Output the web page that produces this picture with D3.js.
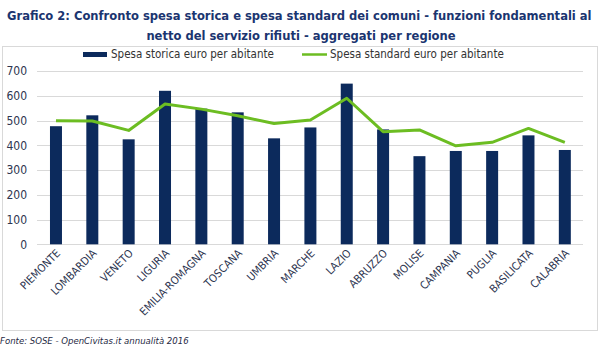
<!DOCTYPE html>
<html><head><meta charset="utf-8">
<script src="https://cdn.jsdelivr.net/npm/d3@7"></script>
<style>body{margin:0;background:#fff}svg{display:block}</style>
</head><body>
<svg id="c" width="600" height="350"></svg>
<script>
const categories = ["PIEMONTE","LOMBARDIA","VENETO","LIGURIA","EMILIA-ROMAGNA","TOSCANA","UMBRIA","MARCHE","LAZIO","ABRUZZO","MOLISE","CAMPANIA","PUGLIA","BASILICATA","CALABRIA"];
const spesaStorica = [477, 521, 424, 620, 548, 533, 428, 472, 649, 464, 356, 377, 377, 440, 381];
const spesaStandard = [499, 498, 460, 567, 546, 519, 488, 502, 590, 455, 462, 398, 412, 468, 412];
const yTicks = [0, 100, 200, 300, 400, 500, 600, 700];
const seriesNames = ["Spesa storica euro per abitante", "Spesa standard euro per abitante"];
const titleLines = ["Grafico 2: Confronto spesa storica e spesa standard dei comuni - funzioni fondamentali al", "netto del servizio rifiuti - aggregati per regione"];
const source = "Fonte: SOSE - OpenCivitas.it annualità 2016";

const svg = d3.select("#c");
const barColor = "#0c2a5c", lineColor = "#6cbd22", textColor = "#2d3550";
const font = "DejaVu Sans Condensed, DejaVu Sans, sans-serif";

// chart frame
svg.append("rect").attr("x", 2.5).attr("y", 46.5).attr("width", 595).attr("height", 284)
  .attr("fill", "none").attr("stroke", "#d9d9d9");

// title (font size fitted so the first line spans the width)
const t1 = svg.append("text").attr("x", 7).attr("y", 20).text(titleLines[0])
  .attr("font-family", font).attr("font-weight", "bold").attr("font-size", 15)
  .attr("fill", "#1b3570");
const w1 = t1.node().getComputedTextLength();
const fs = Math.min(15, 15 * 585 / w1);
t1.attr("font-size", fs);
const t2 = svg.append("text").attr("x", 301).attr("y", 40).text(titleLines[1])
  .attr("text-anchor", "middle")
  .attr("font-family", font).attr("font-weight", "bold").attr("font-size", fs)
  .attr("fill", "#1b3570");

const x = d3.scaleBand().domain(categories).range([37.8, 583]).paddingInner(0.67).paddingOuter(0.335);
const y = d3.scaleLinear().domain([0, 700]).range([244.3, 71]);

// gridlines
svg.append("g").selectAll("line").data(yTicks).join("line")
  .attr("x1", 37).attr("x2", 583).attr("y1", d => Math.round(y(d)) + 0.5).attr("y2", d => Math.round(y(d)) + 0.5)
  .attr("stroke", "#d9d9d9").attr("stroke-width", 1);

// y axis labels
const yAxis = d3.axisLeft(y).tickValues(yTicks).tickSize(0).tickPadding(0);
const gy = svg.append("g").attr("transform", "translate(27,0)").call(yAxis);
gy.select(".domain").remove();
gy.selectAll("text").attr("font-family", font).attr("font-size", 12).attr("fill", textColor);

// bars
svg.append("g").selectAll("rect").data(categories).join("rect")
  .attr("x", d => x(d)).attr("width", x.bandwidth())
  .attr("y", (d, i) => y(spesaStorica[i])).attr("height", (d, i) => y(0) - y(spesaStorica[i]))
  .attr("fill", barColor);

// line
const line = d3.line().x((d, i) => x(categories[i]) + x.bandwidth() / 2).y(d => y(d));
svg.append("path").datum(spesaStandard).attr("d", line)
  .attr("fill", "none").attr("stroke", lineColor).attr("stroke-width", 3).attr("stroke-linejoin", "round");

// x axis labels
const xAxis = d3.axisBottom(x).tickSize(0).tickPadding(0);
const gx = svg.append("g").attr("transform", "translate(0,244)").call(xAxis);
gx.select(".domain").remove();
gx.selectAll("text")
  .attr("font-family", font).attr("font-size", 11).attr("fill", textColor)
  .attr("text-anchor", "end").attr("dy", 0).attr("y", 0)
  .attr("transform", "translate(5,10) rotate(-45)");

// legend
const lg = svg.append("g");
lg.append("rect").attr("x", 83).attr("y", 52).attr("width", 24).attr("height", 5).attr("fill", barColor);
lg.append("text").attr("x", 111).attr("y", 58).text(seriesNames[0])
  .attr("font-family", font).attr("font-size", 11.5).attr("fill", "#333");
lg.append("line").attr("x1", 302).attr("x2", 327).attr("y1", 54.5).attr("y2", 54.5)
  .attr("stroke", lineColor).attr("stroke-width", 2.5);
lg.append("text").attr("x", 330).attr("y", 58).text(seriesNames[1])
  .attr("font-family", font).attr("font-size", 11.5).attr("fill", "#333");

// source
svg.append("text").attr("x", 0).attr("y", 344).text(source)
  .attr("font-family", font).attr("font-style", "italic").attr("font-size", 9.5).attr("fill", "#1f2a44");
</script>
</body></html>
